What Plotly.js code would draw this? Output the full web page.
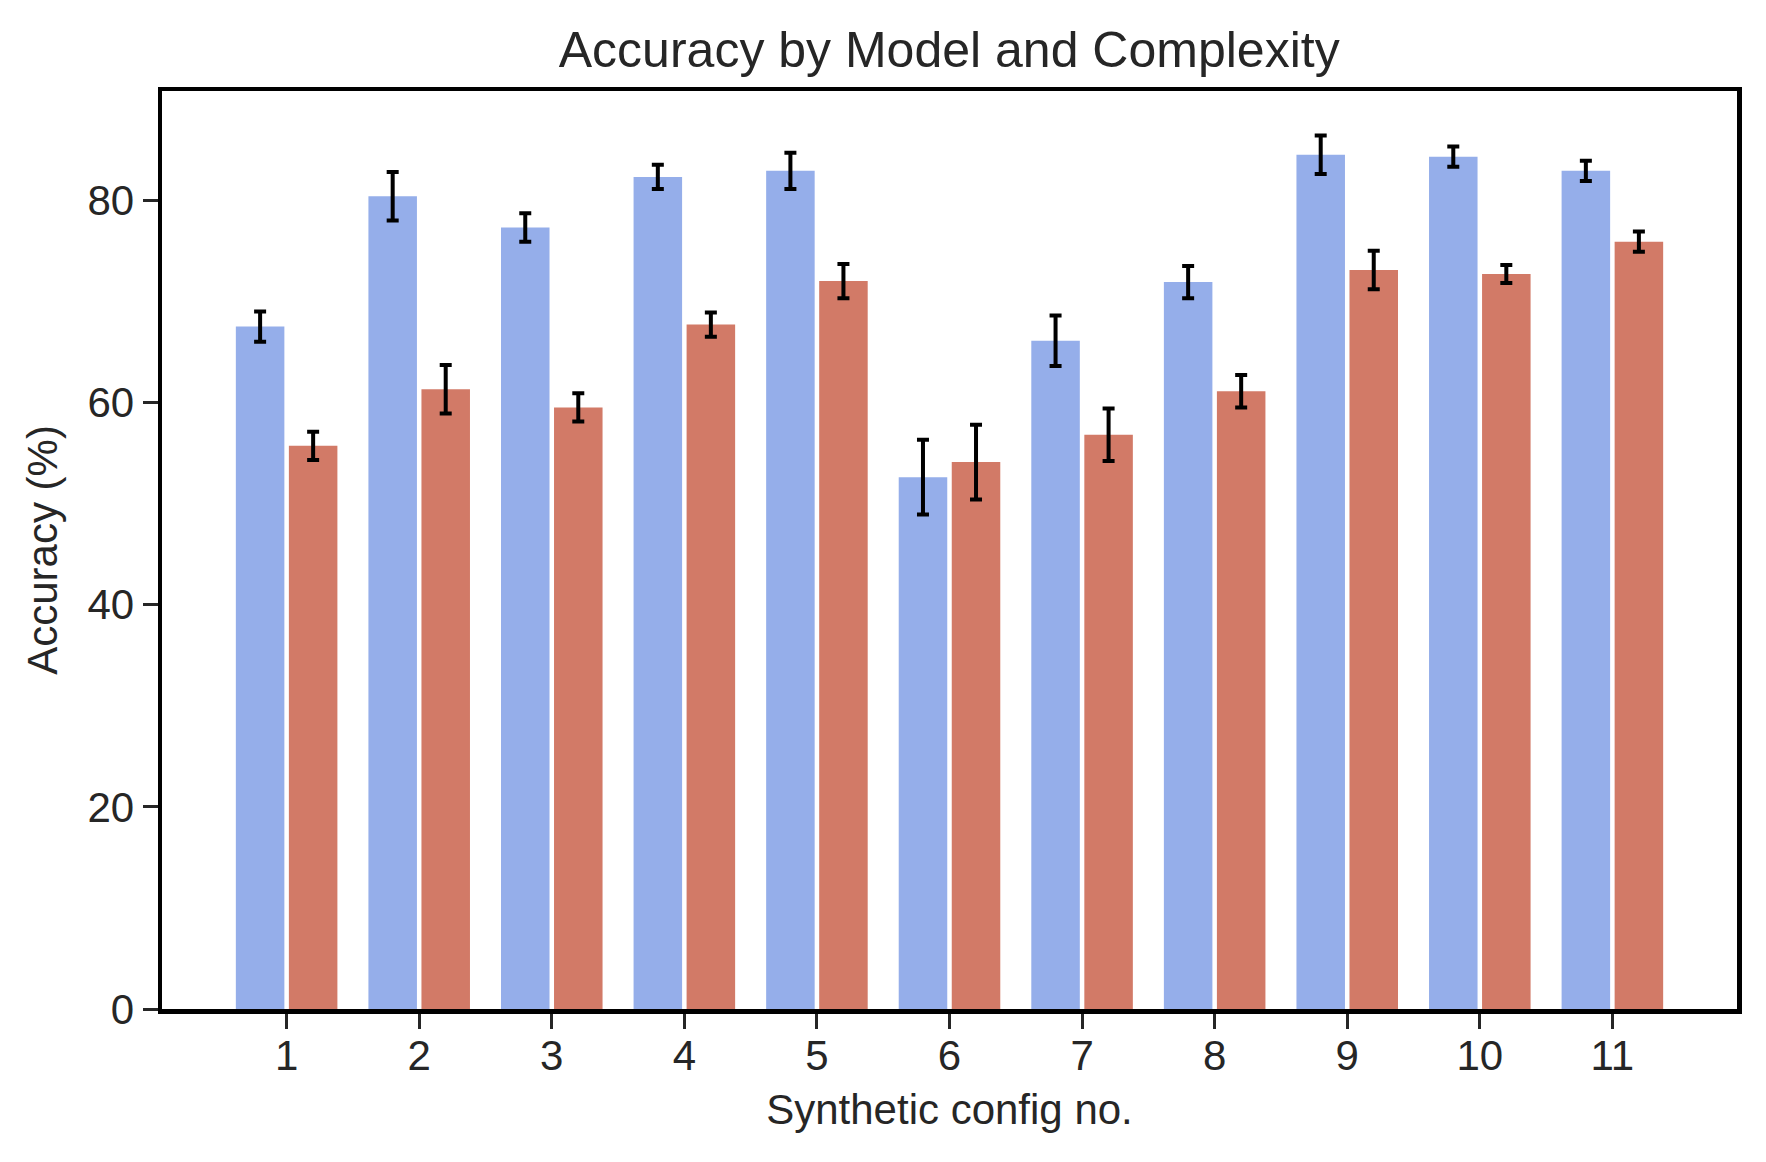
<!DOCTYPE html>
<html>
<head>
<meta charset="utf-8">
<script src="https://cdn.plot.ly/plotly-3.0.1.min.js"></script>
<style>html,body{margin:0;padding:0;background:#fff;}#chart{width:1766px;height:1162px;}</style>
</head>
<body>
<div id="chart"></div>
<script>
const configs = [1, 2, 3, 4, 5, 6, 7, 8, 9, 10, 11];
const tickLabels = ["1", "2", "3", "4", "5", "6", "7", "8", "9", "10", "11"];
const blueValues = [67.5, 80.4, 77.3, 82.3, 82.9, 52.6, 66.1, 71.9, 84.5, 84.3, 82.9];
const blueErrors = [1.5, 2.4, 1.4, 1.2, 1.8, 3.7, 2.5, 1.6, 1.9, 1.0, 1.0];
const redValues = [55.7, 61.3, 59.5, 67.7, 72.0, 54.1, 56.8, 61.1, 73.1, 72.7, 75.9];
const redErrors = [1.4, 2.4, 1.4, 1.2, 1.7, 3.7, 2.6, 1.6, 1.9, 0.9, 1.0];

const font = "Liberation Sans, Arial, Helvetica, sans-serif";
const textColor = "#262626";

function barTrace(name, values, errors, color, offset) {
  return {
    type: "bar",
    name: name,
    x: configs,
    y: values,
    width: 0.366,
    offset: offset,
    marker: {color: color, line: {width: 0}},
    error_y: {type: "data", array: errors, visible: true, color: "#000000", thickness: 4, width: 6},
    hoverinfo: "x+y"
  };
}

const data = [
  barTrace("Model A", blueValues, blueErrors, "#95AEEA", -0.383),
  barTrace("Model B", redValues, redErrors, "#D27A67", 0.017)
];

const layout = {
  width: 1766,
  height: 1162,
  margin: {l: 162, r: 29, t: 91, b: 153, pad: 0},
  paper_bgcolor: "#ffffff",
  plot_bgcolor: "#ffffff",
  showlegend: false,
  barmode: "overlay",
  font: {family: font, color: textColor, size: 42},
  title: {
    text: "Accuracy by Model and Complexity",
    font: {family: font, size: 50, color: textColor},
    x: 0.5375, xanchor: "center",
    yref: "container", y: 1 - 49 / 1162, yanchor: "middle"
  },
  xaxis: {
    range: [0.06, 11.94],
    tickmode: "array",
    tickvals: configs,
    ticktext: tickLabels,
    ticks: "outside",
    ticklen: 15,
    tickwidth: 3,
    tickcolor: textColor,
    ticklabelstandoff: -9,
    tickfont: {family: font, size: 42, color: textColor},
    showline: true,
    linecolor: "#000000",
    linewidth: 4.5,
    mirror: true,
    showgrid: false,
    zeroline: false,
    title: {text: "Synthetic config no.", font: {family: font, size: 42, color: textColor}, standoff: 18}
  },
  yaxis: {
    range: [0, 90.8],
    tickmode: "array",
    tickvals: [0, 20, 40, 60, 80],
    ticktext: ["0", "20", "40", "60", "80"],
    ticks: "outside",
    ticklen: 15,
    tickwidth: 3,
    tickcolor: textColor,
    tickfont: {family: font, size: 42, color: textColor},
    showline: true,
    linecolor: "#000000",
    linewidth: 4.5,
    mirror: true,
    showgrid: false,
    zeroline: false,
    title: {text: "Accuracy (%)", font: {family: font, size: 42, color: textColor}, standoff: 18}
  }
};

Plotly.newPlot("chart", data, layout, {displayModeBar: false, staticPlot: true});
</script>
</body>
</html>
